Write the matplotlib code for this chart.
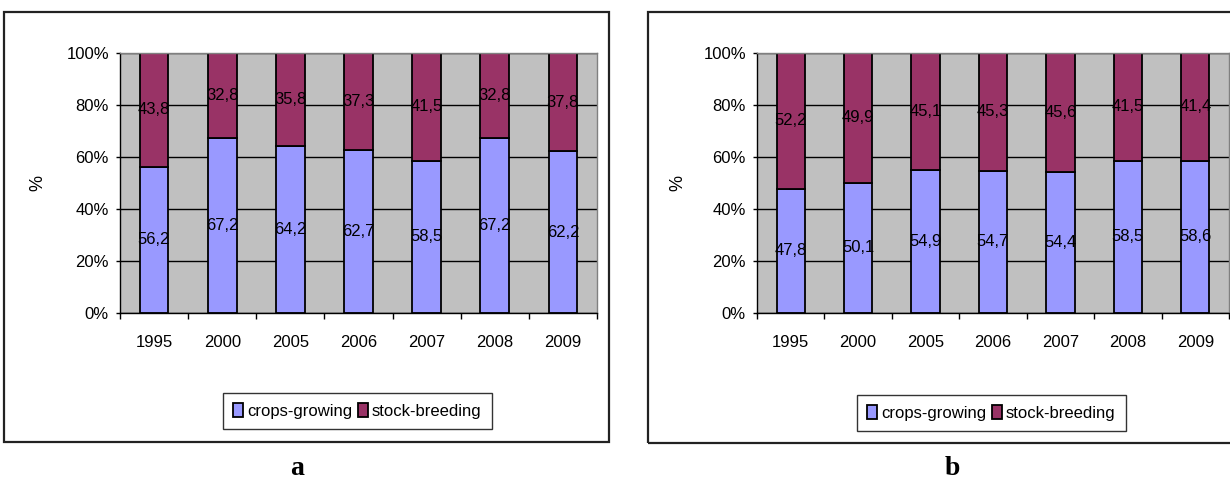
import matplotlib
matplotlib.use("Agg")
import matplotlib.pyplot as plt
from matplotlib.patches import Rectangle
import numpy as np

plt.rcParams['font.family'] = ['Liberation Sans', 'DejaVu Sans']

# datos
years = ['1995', '2000', '2005', '2006', '2007', '2008', '2009']
crops_a = [56.2, 67.2, 64.2, 62.7, 58.5, 67.2, 62.2]
stock_a = [43.8, 32.8, 35.8, 37.3, 41.5, 32.8, 37.8]
crops_b = [47.8, 50.1, 54.9, 54.7, 54.4, 58.5, 58.6]
stock_b = [52.2, 49.9, 45.1, 45.3, 45.6, 41.5, 41.4]
series_names = ['crops-growing', 'stock-breeding']
panel_labels = ['a', 'b']

W, H = 1230, 482
CROP_COLOR = '#9999FF'
STOCK_COLOR = '#993366'
BG = '#C0C0C0'
FS = 12


def px_axes(fig, left, top, right, bottom):
    return fig.add_axes([left / W, 1 - bottom / H, (right - left) / W, (bottom - top) / H])


def panel(fig, ax, crops, stock, ylabel_x, legend_xy):
    x = np.arange(len(years))
    ax.set_facecolor(BG)
    ax.set_axisbelow(True)
    b1 = ax.bar(x, crops, 0.42, color=CROP_COLOR, edgecolor='black', linewidth=1.3,
                label=series_names[0])
    b2 = ax.bar(x, stock, 0.42, bottom=crops, color=STOCK_COLOR, edgecolor='black',
                linewidth=1.3, label=series_names[1])
    fmt = lambda v: f"{v:.1f}".replace('.', ',')
    ax.bar_label(b1, labels=[fmt(v) for v in crops], label_type='center', fontsize=FS)
    ax.bar_label(b2, labels=[fmt(v) for v in stock], label_type='center', fontsize=FS)

    ax.set_xlim(-0.5, len(years) - 0.5)
    ax.set_ylim(0, 100)
    ax.set_yticks(range(0, 101, 20))
    ax.set_yticklabels([f"{v}%" for v in range(0, 101, 20)], fontsize=FS)
    ax.yaxis.grid(True, color='black', linewidth=1)
    ax.tick_params(axis='y', length=3, width=1, pad=5)

    ax.set_xticks(x)
    ax.set_xticklabels(years, fontsize=FS)
    ax.set_xticks(np.arange(-0.5, len(years)), minor=True)
    ax.tick_params(axis='x', which='major', length=0, pad=16)
    ax.tick_params(axis='x', which='minor', length=4.5, width=1)

    for s in ['left', 'bottom']:
        ax.spines[s].set_color('black')
        ax.spines[s].set_linewidth(1)
    for s in ['top', 'right']:
        ax.spines[s].set_color('#808080')
        ax.spines[s].set_linewidth(1)

    fig.text(ylabel_x / W, 1 - 183 / H, '%', rotation=90, fontsize=FS + 1,
             ha='center', va='center')

    leg = fig.legend(handles=[b1, b2], loc='center',
                     bbox_to_anchor=(legend_xy[0] / W, 1 - legend_xy[1] / H),
                     ncol=2, fontsize=FS, frameon=True, fancybox=False,
                     handlelength=0.6, handleheight=0.9, handletextpad=0.25,
                     columnspacing=0.3, borderpad=0.6, borderaxespad=0)
    leg.get_frame().set_edgecolor('black')
    leg.get_frame().set_linewidth(1)


fig = plt.figure(figsize=(W / 100, H / 100), dpi=100)

# marcos de cada panel
fig.patches.append(Rectangle((4 / W, 1 - 442 / H), 605 / W, 430 / H, transform=fig.transFigure,
                             fill=False, edgecolor='#222222', linewidth=1.6))
fig.patches.append(Rectangle((648 / W, 1 - 443 / H), 600 / W, 431 / H, transform=fig.transFigure,
                             fill=False, edgecolor='#222222', linewidth=1.6))

ax_a = px_axes(fig, 120, 53, 597, 313)
panel(fig, ax_a, crops_a, stock_a, 38, (357.5, 411))

ax_b = px_axes(fig, 757, 53, 1229, 313)
panel(fig, ax_b, crops_b, stock_b, 678, (991.5, 413))

fig.text(297 / W, 1 / H, panel_labels[0], fontsize=20, fontweight='bold',
         family='Liberation Serif', ha='center', va='bottom')
fig.text(952 / W, 1 / H, panel_labels[1], fontsize=20, fontweight='bold',
         family='Liberation Serif', ha='center', va='bottom')

fig.savefig('out.png', dpi=100)
